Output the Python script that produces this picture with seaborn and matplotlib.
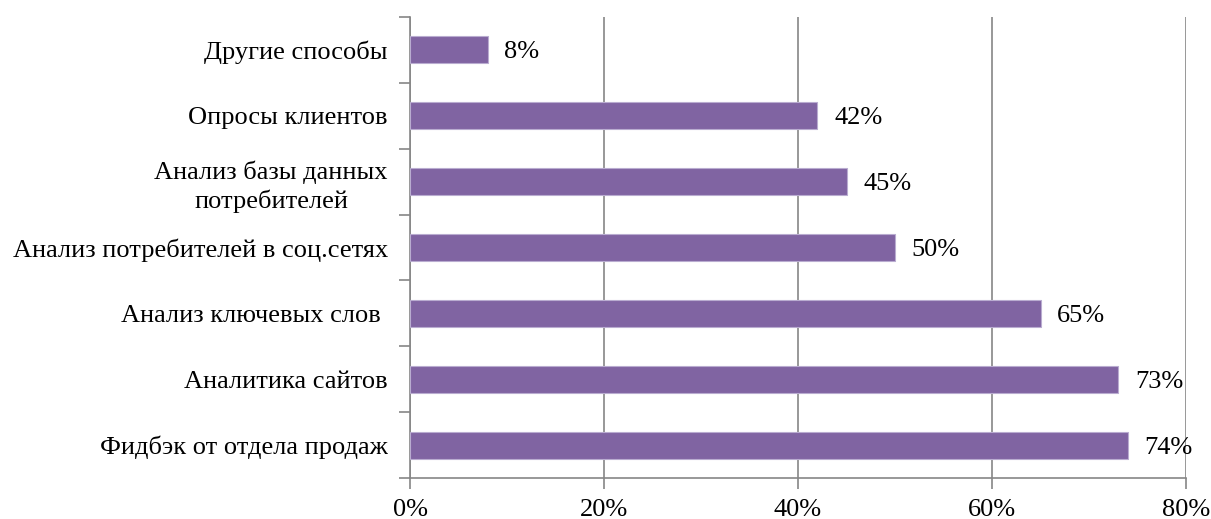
import numpy as np
import pandas as pd
import matplotlib
matplotlib.use("Agg")
import matplotlib.pyplot as plt
import seaborn as sns
from matplotlib.ticker import FixedLocator, PercentFormatter

# Data (top to bottom as in the chart)
categories = [
    "Другие способы",
    "Опросы клиентов",
    "Анализ базы данных\nпотребителей",
    "Анализ потребителей в соц.сетях",
    "Анализ ключевых слов ",
    "Аналитика сайтов",
    "Фидбэк от отдела продаж",
]
shares = [8, 42, 45, 50, 65, 73, 74]
x_ticks = [0, 20, 40, 60, 80]

df = pd.DataFrame({"category": categories, "share": shares})

sns.set_style("white")
plt.rcParams["font.family"] = ["Liberation Serif", "DejaVu Serif"]
plt.rcParams["text.color"] = "black"

grid_col = "#868686"
bar_col = "#8064A2"
fs = 19

fig = plt.figure(figsize=(12.11, 5.19), dpi=100)
ax = fig.add_axes([0.3386, 0.079, 0.9794 - 0.3386, 0.9672 - 0.079])

sns.barplot(data=df, y="category", x="share", orient="h", color=bar_col,
            width=0.41, saturation=1, ax=ax, zorder=3,
            edgecolor="#b9acd0", linewidth=0.8)

ax.set_xlim(0, 80)
ax.set_ylim(len(categories) - 0.5, -0.5)
ax.xaxis.set_major_locator(FixedLocator(x_ticks))
ax.xaxis.set_major_formatter(PercentFormatter(decimals=0))
ax.grid(axis="x", color=grid_col, linewidth=1.2, zorder=0)
ax.grid(axis="y", visible=False)

for side in ["top", "right"]:
    ax.spines[side].set_visible(False)
for side in ["left", "bottom"]:
    ax.spines[side].set_color(grid_col)
    ax.spines[side].set_linewidth(1.2)

ax.set_xlabel("")
ax.set_ylabel("")

# y: labels at centers, tick marks at category boundaries
ax.yaxis.set_minor_locator(FixedLocator(np.arange(-0.5, len(categories), 1)))
ax.tick_params(axis="y", which="major", length=0, pad=16, labelsize=fs,
               labelcolor="black")
ax.tick_params(axis="y", which="minor", length=8, width=1.2, color=grid_col,
               direction="out", left=True)
ax.tick_params(axis="x", which="major", length=8, width=1.2, color=grid_col,
               direction="out", bottom=True, pad=7, labelsize=fs,
               labelcolor="black")
for lab in ax.get_yticklabels():
    lab.set_multialignment("center")
    lab.set_linespacing(1.3)

texts = ax.bar_label(ax.containers[0], labels=[f"{v}%" for v in shares],
                     padding=12, fontsize=fs, color="black")
for t in texts:
    t.set_va("center_baseline")

fig.savefig("out.png", dpi=100)
